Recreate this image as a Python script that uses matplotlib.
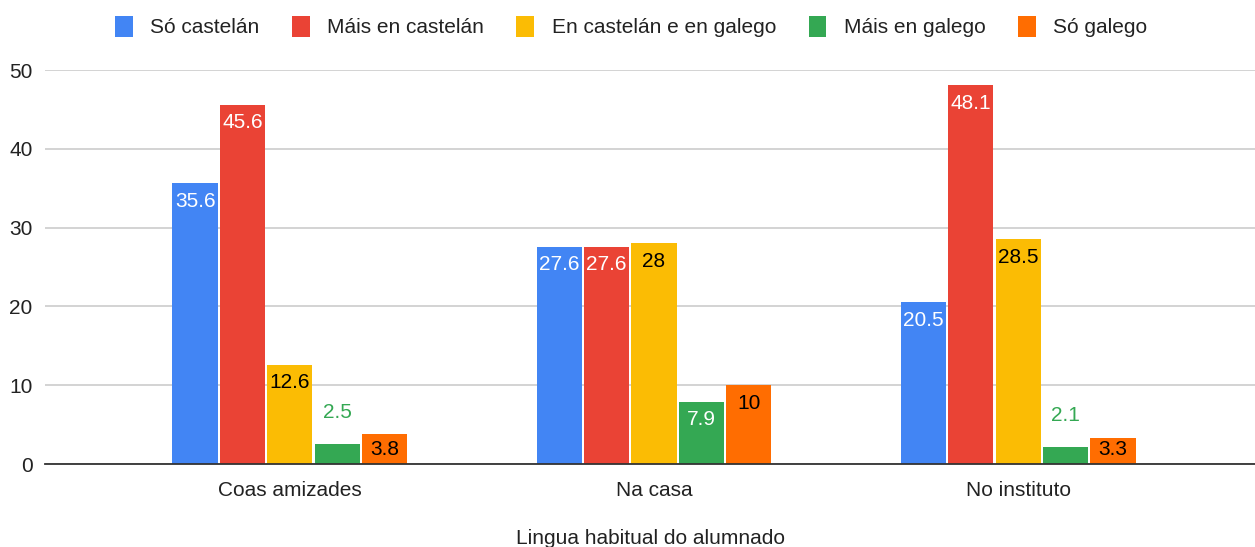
import matplotlib
matplotlib.use("Agg")
import matplotlib.pyplot as plt
import numpy as np

# datos
categorias = ["Coas amizades", "Na casa", "No instituto"]
series = ["Só castelán", "Máis en castelán", "En castelán e en galego", "Máis en galego", "Só galego"]
so_castelan = [35.6, 27.6, 20.5]
mais_castelan = [45.6, 27.6, 48.1]
ambas = [12.6, 28, 28.5]
mais_galego = [2.5, 7.9, 2.1]
so_galego = [3.8, 10, 3.3]
etiquetas_y = [0, 10, 20, 30, 40, 50]

valores = [so_castelan, mais_castelan, ambas, mais_galego, so_galego]
cores = ["#4285F4", "#EA4335", "#FBBC04", "#34A853", "#FF6D01"]
cor_texto = ["white", "white", "black", "white", "black"]

plt.rcParams["font.family"] = ["Liberation Sans", "DejaVu Sans"]
fs = 15

fig = plt.figure(figsize=(12.55, 5.47), dpi=100)
ax = fig.add_axes([45 / 1255, 83 / 547, 1210 / 1255, 394 / 547])

x = np.arange(len(categorias))
slot = 0.13
ancho = 0.124
for i, (serie, vals) in enumerate(zip(series, valores)):
    pos = x + (i - 2) * slot
    ax.bar(pos, vals, ancho, color=cores[i], label=serie, zorder=3)
    for p, v in zip(pos, vals):
        txt = f"{v:g}"
        if v < 3:
            # barra demasiado baixa: etiqueta por riba, na cor da serie
            ax.text(p, v + 4.06, txt, ha="center", va="center", fontsize=fs,
                    color=cores[i], zorder=5)
        else:
            # dentro da barra, sen baixar do eixo
            ax.text(p, max(v - 2.3, 1.9), txt, ha="center", va="center",
                    fontsize=fs, color=cor_texto[i], zorder=5)

ax.set_xlim(-0.672, 2.65)
ax.set_ylim(0, 50)
ax.set_yticks(etiquetas_y)
ax.set_xticks(x)
ax.set_xticklabels(categorias, fontsize=fs)
ax.tick_params(axis="y", labelsize=fs, length=0, pad=9, labelcolor="#222222")
ax.tick_params(axis="x", length=0, pad=12, labelcolor="#222222")
ax.grid(axis="y", color="#cccccc", linewidth=1.2, zorder=0)
for s in ["top", "right", "left"]:
    ax.spines[s].set_visible(False)
ax.spines["bottom"].set_color("#333333")
ax.spines["bottom"].set_linewidth(1.3)
ax.spines["bottom"].set_zorder(4)
ax.set_xlabel("Lingua habitual do alumnado", fontsize=fs, labelpad=21, color="#222222")

ax.legend(loc="center", bbox_to_anchor=(0.4845, 1.11), ncol=5, frameon=False,
          fontsize=fs, handlelength=0.85, handleheight=1.15, columnspacing=1.55,
          handletextpad=0.85, labelcolor="#222222")

fig.savefig("out.png", dpi=100)
